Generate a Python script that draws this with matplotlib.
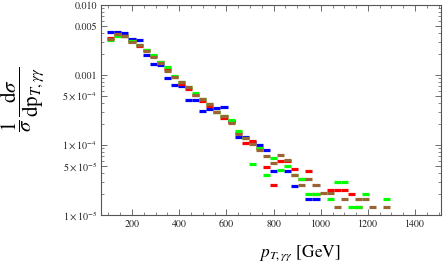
import numpy as np
import matplotlib
matplotlib.use("Agg")
import matplotlib.pyplot as plt
from matplotlib.ticker import FixedLocator, FixedFormatter, MultipleLocator, NullFormatter

# ------------------------------------------------------------------
# Normalised pT(gamma gamma) distributions, 30 GeV bins from 95 GeV
# (nan = empty bin, not drawn on the log axis)
# ------------------------------------------------------------------
nan = np.nan
bin_edges = np.arange(95, 1296, 30)

blue_vals = [4.1e-3, 4.15e-3, 3.95e-3, 3.3e-3, 3.2e-3, 1.95e-3, 1.45e-3, 1.4e-3,
             9.0e-4, 7.1e-4, 7.0e-4, 4.4e-4, 4.4e-4, 3.1e-4, 3.3e-4, 3.4e-4,
             3.5e-4, 2.2e-4, 1.3e-4, 1.3e-4, 1.1e-4, 1.0e-4, 8.5e-5, 4.3e-5,
             nan, 4.3e-5, 2.6e-5, nan, 1.7e-5, 1.7e-5, nan, nan,
             nan, nan, nan, nan, nan, nan, nan, nan]

red_vals = [3.4e-3, 3.75e-3, 3.65e-3, 3.1e-3, 2.6e-3, 2.25e-3, 1.85e-3, 1.55e-3,
            1.2e-3, 9.5e-4, 7.5e-4, 6.3e-4, 5.2e-4, 4.2e-4, 3.6e-4, 3.0e-4,
            2.45e-4, 2.1e-4, 1.5e-4, 1.07e-4, 1.15e-4, 9.0e-5, 4.9e-5, 2.7e-5,
            5.9e-5, 5.9e-5, 4.6e-5, 3.3e-5, 4.3e-5, 2.0e-5, nan, 2.3e-5,
            2.3e-5, 2.3e-5, 2.0e-5, 1.3e-5, nan, nan, nan, nan]

green_vals = [3.2e-3, 3.65e-3, 3.6e-3, 3.1e-3, 2.7e-3, 2.3e-3, 1.9e-3, 1.55e-3,
              1.28e-3, 9.6e-4, 8.0e-4, 6.8e-4, 5.6e-4, 4.6e-4, 3.9e-4, 3.0e-4,
              2.6e-4, 2.3e-4, 1.6e-4, 1.27e-4, 5.4e-5, 9.0e-5, 3.7e-5, 6.5e-5,
              4.4e-5, 5.0e-5, 3.7e-5, 3.3e-5, 2.0e-5, 2.0e-5, nan, 1.7e-5,
              3.0e-5, 3.0e-5, 1.3e-5, 1.3e-5, 2.0e-5, nan, nan, 1.7e-5]

brown_vals = [3.25e-3, 3.8e-3, 3.6e-3, 3.0e-3, 2.7e-3, 2.2e-3, 1.8e-3, 1.5e-3,
              1.15e-3, 9.5e-4, 7.9e-4, 6.7e-4, 5.1e-4, 4.5e-4, 3.8e-4, 3.0e-4,
              2.6e-4, 2.07e-4, 1.45e-4, 1.25e-4, 1.05e-4, 8.5e-5, 7.0e-5, 5.6e-5,
              7.2e-5, 6.2e-5, 3.7e-5, 2.7e-5, 3.3e-5, 2.7e-5, 2.05e-5, 2.05e-5,
              1.3e-5, 1.7e-5, nan, 1.7e-5, 1.7e-5, 1.3e-5, nan, 1.3e-5]

series = [
    (blue_vals, (0.0, 0.0, 1.0)),
    (red_vals, (1.0, 0.0, 0.0)),
    (green_vals, (0.0, 1.0, 0.0)),
    (brown_vals, (0.6, 0.4, 0.2)),
]

y_ticks = [1e-2, 5e-3, 1e-3, 5e-4, 1e-4, 5e-5, 1e-5]
y_tick_labels = ["0.010", "0.005", "0.001", r"$5\times10^{-4}$",
                 r"$1\times10^{-4}$", r"$5\times10^{-5}$", r"$1\times10^{-5}$"]
x_ticks = [200, 400, 600, 800, 1000, 1200, 1400]

plt.rcParams["font.family"] = ["STIXGeneral", "DejaVu Serif"]
plt.rcParams["mathtext.fontset"] = "stix"

frame_col = "#555555"

fig = plt.figure(figsize=(4.44, 2.62), dpi=100)
ax = fig.add_axes([0.2275, 0.1794, 0.7658, 0.8015])

# ---- one flat dash per filled bin ----
for vals, col in series:
    v = np.array(vals, dtype=float)
    ok = ~np.isnan(v)
    ax.hlines(v[ok], bin_edges[:-1][ok], bin_edges[1:][ok],
              colors=[col], linewidth=2.3, capstyle="butt")

ax.set_yscale("log")
ax.set_xlim(68.7, 1510)
ax.set_ylim(1e-5, 1e-2)

ax.yaxis.set_major_locator(FixedLocator(y_ticks))
ax.yaxis.set_major_formatter(FixedFormatter(y_tick_labels))
minor_y = [m * 10.0 ** e for e in range(-5, -2) for m in range(2, 10)]
ax.yaxis.set_minor_locator(FixedLocator(minor_y))
ax.yaxis.set_minor_formatter(NullFormatter())

ax.xaxis.set_major_locator(FixedLocator(x_ticks))
ax.xaxis.set_minor_locator(MultipleLocator(50))

for s in ax.spines.values():
    s.set_color(frame_col)
    s.set_linewidth(0.8)
ax.tick_params(which="both", direction="in", top=True, right=True,
               color=frame_col, labelsize=7.2, labelcolor="#222222", pad=3)
ax.tick_params(which="major", length=4, width=0.6)
ax.tick_params(which="minor", length=2, width=0.5)

ax.set_xlabel(r"$p_{T,\gamma\gamma}$ [GeV]", fontsize=12.5)
ax.xaxis.set_label_coords(0.585, -0.135)
ax.set_ylabel(r"$\dfrac{1}{\sigma}\,\dfrac{\mathrm{d}\sigma}{\mathrm{dp}_{T,\gamma\gamma}}$",
              fontsize=15, va="center")
ax.yaxis.set_label_coords(-0.23, 0.55)

fig.savefig("out.png", dpi=100)
